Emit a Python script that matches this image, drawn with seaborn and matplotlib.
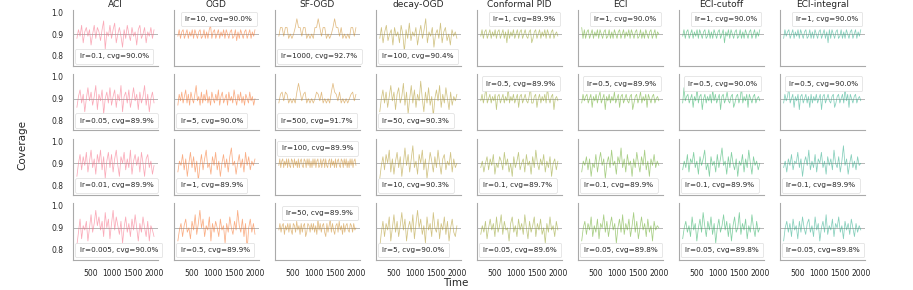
import numpy as np
import seaborn as sns
import matplotlib.pyplot as plt

methods = ["ACI", "OGD", "SF-OGD", "decay-OGD", "Conformal PID", "ECI", "ECI-cutoff", "ECI-integral"]
lrs = [
    ["0.1", "0.05", "0.01", "0.005"],
    ["10", "5", "1", "0.5"],
    ["1000", "500", "100", "50"],
    ["100", "50", "10", "5"],
    ["1", "0.5", "0.1", "0.05"],
    ["1", "0.5", "0.1", "0.05"],
    ["1", "0.5", "0.1", "0.05"],
    ["1", "0.5", "0.1", "0.05"],
]
cvgs = [
    [90.0, 89.9, 89.9, 90.0],
    [90.0, 90.0, 89.9, 89.9],
    [92.7, 91.7, 89.9, 89.9],
    [90.4, 90.3, 90.3, 90.0],
    [89.9, 89.9, 89.7, 89.6],
    [90.0, 89.9, 89.9, 89.8],
    [90.0, 90.0, 89.9, 89.8],
    [90.0, 90.0, 89.9, 89.8],
]

# rolling coverage (percent)
aci = [
    [88,92,89,94,86,91,93,89,92,85,90,94,88,93,91,87,92,96,83,91,89,94,88,92,95,86,90,93,89,84,92,88,94,90,87,93,89,91,85,92,94,88,90,93,86,91,89,93,88,92],
    [86,91,94,88,92,84,90,95,89,93,87,91,96,85,92,89,94,83,90,93,88,95,87,91,94,86,92,89,96,84,91,93,88,94,86,90,95,89,92,85,93,88,91,96,87,92,84,90,93,88],
    [84,90,94,87,93,89,95,86,91,96,88,92,85,94,90,96,87,93,83,91,95,88,94,86,92,96,89,84,93,90,95,87,92,88,96,85,91,94,89,93,86,95,90,84,92,94,88,91,85,89],
    [82,88,94,85,91,89,93,84,90,96,88,92,98,91,95,89,93,86,97,90,94,85,92,98,89,95,91,87,93,83,90,95,88,92,86,94,89,96,90,84,92,88,95,90,86,93,84,91,89,86],
]
ogd = [
    [89,92,88,91,92,88,90,92,88,91,89,92,88,92,90,88,91,92,88,89,92,88,91,88,92,94,88,91,92,88,90,92,88,91,89,92,88,92,90,88,91,92,88,89,92,87,91,88,92,90,88,91,92,88,90,92,88,91,89,92],
    [87,92,89,93,88,91,94,88,92,87,93,90,88,92,96,89,91,87,93,88,92,89,94,88,91,87,93,90,88,92,89,94,87,91,93,88,90,92,87,93,89,91,88,94,90,87,92,89,93,88,91,87,92,90,88,93,89,91,87,90],
    [86,91,89,94,87,92,84,90,95,88,93,86,91,82,89,94,87,92,96,88,90,85,93,89,95,87,91,84,90,94,88,92,86,93,97,89,91,85,90,94,88,92,86,95,89,93,87,91,89,92],
    [84,89,92,86,91,94,88,90,85,93,89,96,87,92,98,90,94,86,91,89,95,84,92,88,93,90,86,94,89,91,83,92,88,95,90,87,93,89,98,91,88,94,86,92,80,90,94,88,92,87],
]
sf_ogd = [
    [89,93,93,89,93,93,88,90,88,90,93,97,93,93,89,93,93,88,90,88,90,88,93,93,97,93,89,93,93,88,90,88,90,93,97,93,93,89,93,88,90,88,90,88,93,93,89,93],
    [88,92,93,89,93,92,88,90,88,90,88,93,97,93,89,92,93,88,90,88,90,88,90,93,92,89,93,88,90,88,90,88,93,97,93,92,89,93,88,90,88,90,88,90,92,93,89,92],
    [89,92,88,91,92,88,91,89,92,88,92,89,88,92,91,88,92,89,91,88,92,88,91,92,89,88,92,91,88,92,89,92,88,91,88,92,89,92,88,91,92,88,89,92,88,91,92,88,92,89,88,91,92,88,92,89,91,88,92,88,91,92,89,88,92,91,88,92,89,92,88,91,88,92,89,92,88,91,92,89],
    [89,92,88,91,92,87,91,89,92,88,92,89,87,92,91,88,93,89,91,87,92,88,91,92,86,88,92,91,88,92,89,92,88,91,87,94,89,92,88,91,92,88,86,92,88,91,94,88,92,89,87,91,92,88,93,89,91,87,92,88,91,92,89,88,92,91,88,92,89,90],
]
decay_ogd = [
    [88,93,86,91,94,87,90,92,85,93,89,91,86,94,90,82,92,88,95,87,91,89,93,85,90,94,88,92,97,86,91,89,93,84,90,92,88,95,86,91,93,87,90,85,92,89,91,88],
    [84,90,94,88,93,86,91,96,89,93,85,92,95,88,91,97,87,93,83,90,96,88,94,86,92,89,98,90,84,93,88,95,87,91,82,90,94,89,96,86,92,88,95,90,85,93,87,91,89,92],
    [83,89,93,87,94,90,96,86,92,85,91,95,88,93,84,90,97,89,94,86,92,98,88,91,85,94,90,96,87,92,83,89,95,91,86,93,88,96,90,85,92,94,87,91,89,95,86,92,88,90],
    [81,88,93,86,92,89,95,84,90,96,88,93,86,91,97,89,94,84,90,93,88,96,85,92,98,90,94,87,91,83,95,89,92,86,97,90,88,94,85,92,89,95,87,93,84,90,94,88,86,91],
]
pid = [
    [89,92,88,91,92,88,90,92,88,91,89,92,88,91,92,88,90,92,88,91,86,92,88,91,89,92,88,90,92,88,91,92,88,90,92,89,88,91,92,86,88,91,92,88,90,92,88,91,89,92,88,92,90,88,91,92,88,90,91,89],
    [89,92,88,91,95,88,90,92,88,91,89,92,85,91,92,88,90,92,88,91,89,95,88,91,89,92,88,90,92,86,91,92,88,90,92,89,88,91,95,88,88,91,92,86,90,92,88,91,89,92,88,95,90,88,91,92,85,90,91,89],
    [88,91,86,90,93,87,92,89,94,85,90,88,93,91,87,95,89,92,86,90,84,93,88,91,95,87,90,92,86,94,89,91,85,93,88,96,90,87,92,89,94,86,91,88,93,84,90,92,87,91],
    [87,91,88,93,85,90,94,89,92,86,95,88,91,96,87,93,89,90,84,92,95,88,91,86,94,89,92,87,96,90,85,93,88,91,95,86,92,89,94,87,90,83,92,88,95,89,91,86,93,89],
]
eci = [
    [93,88,92,88,91,92,88,90,92,88,91,89,92,88,92,90,88,91,92,88,89,92,88,91,88,92,90,88,91,92,88,90,92,88,91,89,92,88,92,90,88,91,92,88,89,92,88,91,88,92,90,88,91,92,88,90,92,88,91,90],
    [88,92,89,91,92,88,90,92,86,91,89,92,88,91,93,88,90,92,85,91,89,92,88,91,89,93,88,90,92,86,91,92,88,90,92,89,88,91,92,85,88,91,92,88,90,93,88,91,89,92,86,92,90,88,91,92,88,90,91,89],
    [86,91,89,93,87,92,84,90,88,94,86,91,95,89,92,83,90,93,88,96,89,91,85,93,90,97,88,92,86,94,89,91,84,92,88,95,90,86,93,89,96,87,91,84,92,89,94,88,91,89],
    [84,90,93,87,92,89,95,86,91,88,94,85,92,90,96,88,93,86,91,95,89,92,83,90,94,88,96,87,92,89,94,86,91,97,88,93,85,90,95,89,92,86,94,88,91,84,93,89,91,90],
]
eci_cutoff = [
    [89,92,88,91,92,88,90,92,88,91,89,92,88,92,90,88,91,92,88,89,92,88,91,88,92,90,88,91,92,88,90,92,86,91,89,92,88,92,90,88,91,92,88,89,92,88,91,88,92,90,88,91,92,88,90,92,88,91,89,92],
    [88,95,89,91,92,88,90,92,86,91,89,95,88,91,92,85,90,92,88,91,89,92,88,94,89,92,88,90,92,85,91,92,88,90,93,89,88,91,92,86,88,91,92,88,90,95,88,91,89,92,86,92,90,88,91,92,88,90,91,89],
    [87,91,88,94,86,92,90,95,88,91,85,93,89,92,96,87,90,84,93,89,91,86,94,88,92,97,89,91,85,93,88,95,90,87,92,84,91,89,94,86,92,88,96,90,85,93,89,91,87,90],
    [85,90,93,88,91,86,95,89,92,84,90,94,88,97,91,86,93,89,95,87,92,83,90,94,88,91,96,89,93,86,92,84,91,95,88,90,97,87,92,89,94,85,91,88,96,90,86,93,88,90],
]
eci_integral = [
    [88,92,89,91,92,88,90,92,88,91,89,92,88,92,90,88,91,92,88,89,92,88,91,88,92,90,88,91,92,88,90,92,88,91,86,92,88,92,90,88,91,92,88,89,92,88,91,88,92,90,88,91,92,88,90,92,88,91,89,92],
    [88,92,89,91,95,88,90,92,86,91,89,92,85,91,92,88,90,92,88,91,86,92,88,91,89,92,88,90,92,85,91,92,88,90,92,89,88,91,92,86,88,91,92,88,90,92,88,95,89,92,86,92,90,88,91,92,88,90,91,89],
    [88,91,86,92,89,94,87,91,90,95,88,92,84,90,93,89,96,87,91,88,94,86,92,90,95,88,91,85,93,89,92,87,96,90,88,93,86,91,98,89,92,85,90,94,88,91,87,93,89,90],
    [84,90,93,88,92,86,94,89,91,85,93,88,95,90,87,92,94,88,91,86,95,89,92,84,90,93,88,96,87,91,89,94,86,92,90,95,88,91,85,93,89,92,87,94,90,86,92,88,91,89],
]
all_series = [aci, ogd, sf_ogd, decay_ogd, pid, eci, eci_cutoff, eci_integral]

# where the lr/cvg box sits in each panel
box_loc = [
    ["lower left"] * 4,
    ["upper right", "lower left", "lower left", "lower left"],
    ["lower left", "lower left", "upper right", "upper right"],
    ["lower left"] * 4,
    ["upper right", "upper right", "lower left", "lower left"],
    ["upper right", "upper right", "lower left", "lower left"],
    ["upper right", "upper right", "lower left", "lower left"],
    ["upper right", "upper right", "lower left", "lower left"],
]

sns.set_theme(style="white")
plt.rcParams["axes.edgecolor"] = "#aaaaaa"
colors = sns.husl_palette(16)[:8]

fig, axes = plt.subplots(4, 8, figsize=(9.13, 2.9), dpi=100, sharex=True, sharey=True)
fig.subplots_adjust(left=0.080, right=0.947, top=0.967, bottom=0.105, wspace=0.19, hspace=0.15)

for j, name in enumerate(methods):
    for i in range(4):
        ax = axes[i, j]
        vals = np.array(all_series[j][i]) / 100
        t = np.linspace(175, 2000, len(vals))
        ax.axhline(0.9, color="#999999", lw=0.5, zorder=0)
        sns.lineplot(x=t, y=vals, ax=ax, color=colors[j], lw=0.55, alpha=0.6)
        leg = ax.legend([plt.Line2D([], [], lw=0)], [f"lr={lrs[j][i]}, cvg={cvgs[j][i]:.1f}%"],
                        loc=box_loc[j][i], fontsize=5.2, handlelength=0, handletextpad=0,
                        borderpad=0.6, borderaxespad=0.3, framealpha=1, fancybox=True)
        leg.get_frame().set_edgecolor("#dddddd")
        leg.get_frame().set_linewidth(0.5)
        ax.set_ylim(0.755, 1.012)
        ax.set_yticks([0.8, 0.9, 1.0])
        ax.set_xticks([500, 1000, 1500, 2000])
        ax.tick_params(labelsize=5.5, pad=1)
        for s in ax.spines.values():
            s.set_linewidth(0.8)
        if i == 0:
            ax.set_title(name, fontsize=6.5, pad=2)
sns.despine(fig=fig)

fig.text(0.024, 0.5, "Coverage", rotation=90, va="center", ha="center", fontsize=7.5)
fig.text(0.499, 0.025, "Time", va="center", ha="center", fontsize=7.5)

plt.savefig("out.png", dpi=100)
